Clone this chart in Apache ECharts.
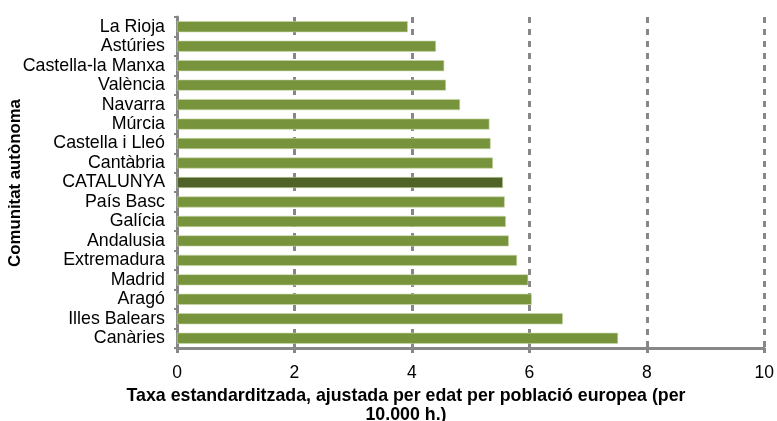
<!DOCTYPE html>
<html>
<head>
<meta charset="utf-8">
<script src="https://cdn.jsdelivr.net/npm/echarts@6/dist/echarts.min.js"></script>
<style>
  html, body { margin: 0; padding: 0; background: #ffffff; }
  #chart { width: 777px; height: 421px; }
</style>
</head>
<body>
<div id="chart"></div>
<script>
// Comunitats autònomes, from top to bottom
const regions = [
  'La Rioja', 'Astúries', 'Castella-la Manxa', 'València', 'Navarra',
  'Múrcia', 'Castella i Lleó', 'Cantàbria', 'CATALUNYA', 'País Basc',
  'Galícia', 'Andalusia', 'Extremadura', 'Madrid', 'Aragó',
  'Illes Balears', 'Canàries'
];
// Taxa estandarditzada per 10.000 h.
const rates = [
  3.93, 4.41, 4.55, 4.58, 4.82,
  5.32, 5.34, 5.38, 5.55, 5.58,
  5.60, 5.65, 5.79, 5.98, 6.04,
  6.57, 7.51
];
const highlighted = 'CATALUNYA';
const xTicks = [0, 2, 4, 6, 8, 10];

const barColor = '#77933C';
const highlightColor = '#4F6228';
const axisGrey = '#878787';
const font = 'Liberation Sans, Arial, sans-serif';

const chart = echarts.init(document.getElementById('chart'), null, { renderer: 'canvas' });

chart.setOption({
  animation: false,
  backgroundColor: '#ffffff',
  grid: { left: 177, right: 9, top: 17, bottom: 73, containLabel: false },
  xAxis: {
    type: 'value',
    min: xTicks[0],
    max: xTicks[xTicks.length - 1],
    interval: xTicks[1] - xTicks[0],
    axisLine: { show: true, lineStyle: { color: axisGrey, width: 3 } },
    axisTick: { show: true, length: 5, lineStyle: { color: axisGrey, width: 3 } },
    axisLabel: { color: '#000', fontFamily: font, fontSize: 17.5, margin: 16 },
    splitLine: { show: true, lineStyle: { color: axisGrey, width: 3, type: [6, 6] } }
  },
  yAxis: {
    type: 'category',
    data: regions,
    inverse: true,
    axisLine: { show: true, lineStyle: { color: axisGrey, width: 3 } },
    axisTick: { show: true, length: 3, lineStyle: { color: axisGrey, width: 2 } },
    axisLabel: { color: '#000', fontFamily: font, fontSize: 17.8, margin: 12, interval: 0 },
    splitLine: { show: false }
  },
  series: [{
    type: 'bar',
    barWidth: 11,
    data: rates.map((v, i) => ({
      value: v,
      itemStyle: {
        color: regions[i] === highlighted ? highlightColor : barColor
      }
    })),
    itemStyle: { borderColor: '#c9d9a6', borderWidth: 0.6 }
  }],
  graphic: [
    {
      type: 'text',
      position: [406, 387],
      style: {
        text: 'Taxa estandarditzada, ajustada per edat per població europea (per\n10.000 h.)',
        fontFamily: font,
        fontWeight: 'bold',
        fontSize: 17.8,
        lineHeight: 19,
        fill: '#000',
        align: 'center'
      }
    },
    {
      type: 'text',
      rotation: Math.PI / 2,
      position: [15, 183],
      style: {
        text: 'Comunitat autònoma',
        fontFamily: font,
        fontWeight: 'bold',
        fontSize: 16.8,
        fill: '#000',
        align: 'center',
        verticalAlign: 'middle'
      }
    }
  ]
});
</script>
</body>
</html>
